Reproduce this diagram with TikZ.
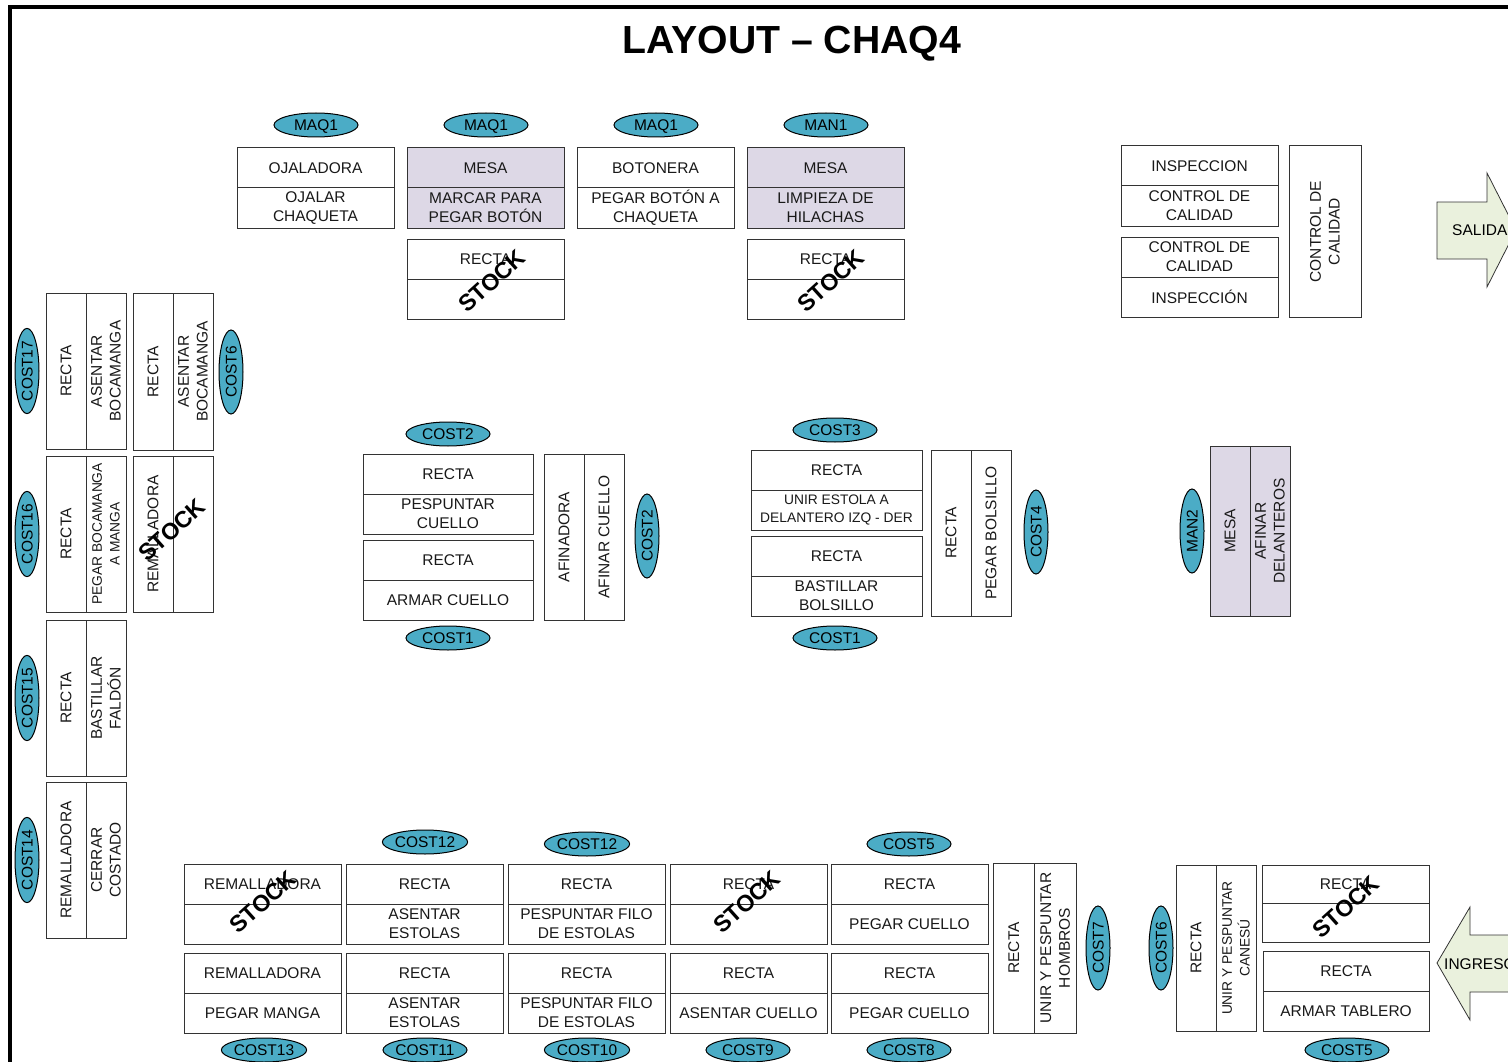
\documentclass[tikz,border=0pt]{standalone}
\usepackage{fontspec}
\setmainfont{Liberation Sans}
\usetikzlibrary{shapes.geometric}
\definecolor{ovalblue}{HTML}{4BACC6}
\definecolor{lav}{HTML}{DDD8E6}
\definecolor{arrowgreen}{HTML}{EAF1DD}
\definecolor{cellline}{gray}{0.2}
\newcommand{\fnorm}{\fontsize{15.5}{18.8}\selectfont}
\newcommand{\fsmall}{\fontsize{13.8}{17.6}\selectfont}
\tikzset{
  cellbox/.style={draw=cellline,line width=1pt,inner sep=0pt,outer sep=0pt,align=center,font=\fnorm,text=black!90},
  smallcell/.style={font=\fsmall},
  tag/.style={ellipse,draw=black,line width=1pt,fill=ovalblue,inner sep=0pt,minimum width=84pt,minimum height=24pt,font=\fnorm,text=black,text height=11pt,text depth=0pt},
  vtag/.style={tag,rotate=90},
  stocktext/.style={font=\fontsize{23.2}{26}\selectfont\bfseries,rotate=42,inner sep=0pt,text=black},
  flowarrow/.style={draw=black!80,line width=.8pt,fill=arrowgreen},
  arrowtext/.style={font=\fnorm,anchor=west,inner sep=0pt},
}
% horizontal station: name, x0, x1, y0, y1, fill, top text, bottom text, bottom style
\newcommand{\hst}[9]{%
  \pgfmathsetmacro{\wid}{#3-#2}\pgfmathsetmacro{\hgt}{(#5-#4)/2}%
  \pgfmathsetmacro{\cx}{(#2+#3)/2}\pgfmathsetmacro{\ya}{#4+\hgt/2}\pgfmathsetmacro{\yb}{#4+1.5*\hgt}%
  \node[cellbox,fill=#6,minimum width=\wid pt,minimum height=\hgt pt] (#1a) at (\cx,\ya) {#7};
  \node[cellbox,#9,fill=#6,minimum width=\wid pt,minimum height=\hgt pt] (#1b) at (\cx,\yb) {#8};
}
% vertical station: name, x0, x1, y0, y1, fill, left text, right text, right style
\newcommand{\vst}[9]{%
  \pgfmathsetmacro{\wid}{(#3-#2)/2}\pgfmathsetmacro{\hgt}{#5-#4}%
  \pgfmathsetmacro{\cy}{(#4+#5)/2}\pgfmathsetmacro{\xa}{#2+\wid/2}\pgfmathsetmacro{\xb}{#2+1.5*\wid}%
  \node[cellbox,rotate=90,fill=#6,minimum width=\hgt pt,minimum height=\wid pt] (#1a) at (\xa,\cy) {#7};
  \node[cellbox,#9,rotate=90,fill=#6,minimum width=\hgt pt,minimum height=\wid pt] (#1b) at (\xb,\cy) {#8};
}
\begin{document}
\begin{tikzpicture}[x=1pt,y=-1pt]
\useasboundingbox (0,0) rectangle (1508,1062);
\clip (0,0) rectangle (1508,1062);
\fill[white] (0,0) rectangle (1508,1062);
\draw[black,line width=4pt] (10,1070) -- (10,7) -- (1520,7);
\node[font=\fontsize{39.2}{44}\selectfont\bfseries,inner sep=0pt,text height=28pt,text depth=0pt] (title) at (792,40) {LAYOUT – CHAQ4};
% top row
\node[tag] (t1) at (316,125) {MAQ1};
\node[tag] (t2) at (486,125) {MAQ1};
\node[tag] (t3) at (656,125) {MAQ1};
\node[tag] (t4) at (826,125) {MAN1};
\hst{s1}{237}{394}{148}{228}{white}{OJALADORA}{OJALAR\\CHAQUETA}{}
\hst{s2}{407}{564}{148}{228}{lav}{MESA}{MARCAR PARA\\PEGAR BOTÓN}{}
\hst{s3}{577}{734}{148}{228}{white}{BOTONERA}{PEGAR BOTÓN A\\CHAQUETA}{}
\hst{s4}{747}{904}{148}{228}{lav}{MESA}{LIMPIEZA DE\\HILACHAS}{}
\hst{s5}{407}{564}{239}{319}{white}{RECTA}{}{}
\hst{s6}{747}{904}{239}{319}{white}{RECTA}{}{}
% quality
\hst{q1}{1121}{1278}{146}{226}{white}{INSPECCION}{CONTROL DE\\CALIDAD}{}
\hst{q2}{1121}{1278}{237}{317}{white}{CONTROL DE\\CALIDAD}{INSPECCIÓN}{}
\node[cellbox,rotate=90,fill=white,minimum width=171pt,minimum height=72pt] (q3) at (1325,231.5) {CONTROL DE\\CALIDAD};
% salida arrow
\draw[flowarrow] (1437,202) -- (1487,202) -- (1487,173) -- (1516,230) -- (1487,287) -- (1487,259) -- (1437,259) -- cycle;
\node[arrowtext] (salida) at (1452,230) {SALIDA};
% left block
\vst{l1}{46}{126}{293}{449}{white}{RECTA}{ASENTAR\\BOCAMANGA}{}
\vst{l2}{133}{213}{293}{450}{white}{RECTA}{ASENTAR\\BOCAMANGA}{}
\vst{l3}{46}{126}{456}{612}{white}{RECTA}{PEGAR BOCAMANGA\\A MANGA}{smallcell}
\vst{l4}{133}{213}{456}{612}{white}{REMALLADORA}{}{}
\vst{l5}{46}{126}{620}{776}{white}{RECTA}{BASTILLAR\\FALDÓN}{}
\vst{l6}{46}{126}{782}{938}{white}{REMALLADORA}{CERRAR\\COSTADO}{}
\node[vtag] (c17) at (27,371) {COST17};
\node[vtag] (c16) at (27,534) {COST16};
\node[vtag] (c15) at (27,698) {COST15};
\node[vtag] (c14) at (27,860) {COST14};
\node[vtag] (c6a) at (231,372) {COST6};
% middle left
\node[tag] (c2a) at (448,434) {COST2};
\hst{m1}{363}{533}{454}{534}{white}{RECTA}{PESPUNTAR\\CUELLO}{}
\hst{m2}{363}{533}{540}{620}{white}{RECTA}{ARMAR CUELLO}{}
\node[tag] (c1a) at (448,638) {COST1};
\vst{m3}{544}{624}{454}{620}{white}{AFINADORA}{AFINAR CUELLO}{}
\node[vtag] (c2b) at (647,536) {COST2};
% middle right
\node[tag] (c3) at (835,430) {COST3};
\hst{n1}{751}{922}{450}{530}{white}{RECTA}{UNIR ESTOLA A\\DELANTERO IZQ - DER}{smallcell}
\hst{n2}{751}{922}{536}{616}{white}{RECTA}{BASTILLAR\\BOLSILLO}{}
\node[tag] (c1b) at (835,638) {COST1};
\vst{n3}{931}{1011}{450}{616}{white}{RECTA}{PEGAR BOLSILLO}{}
\node[vtag] (c4) at (1036,532) {COST4};
\node[vtag] (man2) at (1192,531) {MAN2};
\vst{n4}{1210}{1290}{446}{616}{lav}{MESA}{AFINAR\\DELANTEROS}{}
% bottom rows
\node[tag] (c12a) at (425,842) {COST12};
\node[tag] (c12b) at (587,844) {COST12};
\node[tag] (c5a) at (909,844) {COST5};
\hst{b1}{184}{341}{864}{944}{white}{REMALLADORA}{}{}
\hst{b2}{346}{503}{864}{944}{white}{RECTA}{ASENTAR\\ESTOLAS}{}
\hst{b3}{508}{665}{864}{944}{white}{RECTA}{PESPUNTAR FILO\\DE ESTOLAS}{}
\hst{b4}{670}{827}{864}{944}{white}{RECTA}{}{}
\hst{b5}{831}{988}{864}{944}{white}{RECTA}{PEGAR CUELLO}{}
\hst{d1}{184}{341}{953}{1033}{white}{REMALLADORA}{PEGAR MANGA}{}
\hst{d2}{346}{503}{953}{1033}{white}{RECTA}{ASENTAR\\ESTOLAS}{}
\hst{d3}{508}{665}{953}{1033}{white}{RECTA}{PESPUNTAR FILO\\DE ESTOLAS}{}
\hst{d4}{670}{827}{953}{1033}{white}{RECTA}{ASENTAR CUELLO}{}
\hst{d5}{831}{988}{953}{1033}{white}{RECTA}{PEGAR CUELLO}{}
\node[tag] (c13) at (264,1050) {COST13};
\node[tag] (c11) at (425,1050) {COST11};
\node[tag] (c10) at (587,1050) {COST10};
\node[tag] (c9) at (748,1050) {COST9};
\node[tag] (c8) at (909,1050) {COST8};
\vst{e1}{993}{1076}{863}{1033}{white}{RECTA}{UNIR Y PESPUNTAR\\HOMBROS}{}
\node[vtag] (c7) at (1098,948) {COST7};
\node[vtag] (c6b) at (1161,948) {COST6};
\vst{e2}{1176}{1256}{865}{1031}{white}{RECTA}{UNIR Y PESPUNTAR\\CANESÚ}{smallcell}
\hst{e3}{1262}{1429}{865}{942}{white}{RECTA}{}{}
\hst{e4}{1263}{1429}{951}{1031}{white}{RECTA}{ARMAR TABLERO}{}
\node[tag] (c5b) at (1347,1050) {COST5};
% ingreso arrow
\draw[flowarrow] (1520,935) -- (1470,935) -- (1470,907) -- (1437,963) -- (1470,1020) -- (1470,992) -- (1520,992) -- cycle;
\node[arrowtext] (ingreso) at (1444,964) {INGRESO};
% stock labels
\node[stocktext] (k1) at (492,281) {STOCK};
\node[stocktext] (k2) at (831,281) {STOCK};
\node[stocktext] (k3) at (172,530) {STOCK};
\node[stocktext] (k4) at (263,902) {STOCK};
\node[stocktext] (k5) at (747,902) {STOCK};
\node[stocktext] (k6) at (1346,907) {STOCK};
\end{tikzpicture}
\end{document}
